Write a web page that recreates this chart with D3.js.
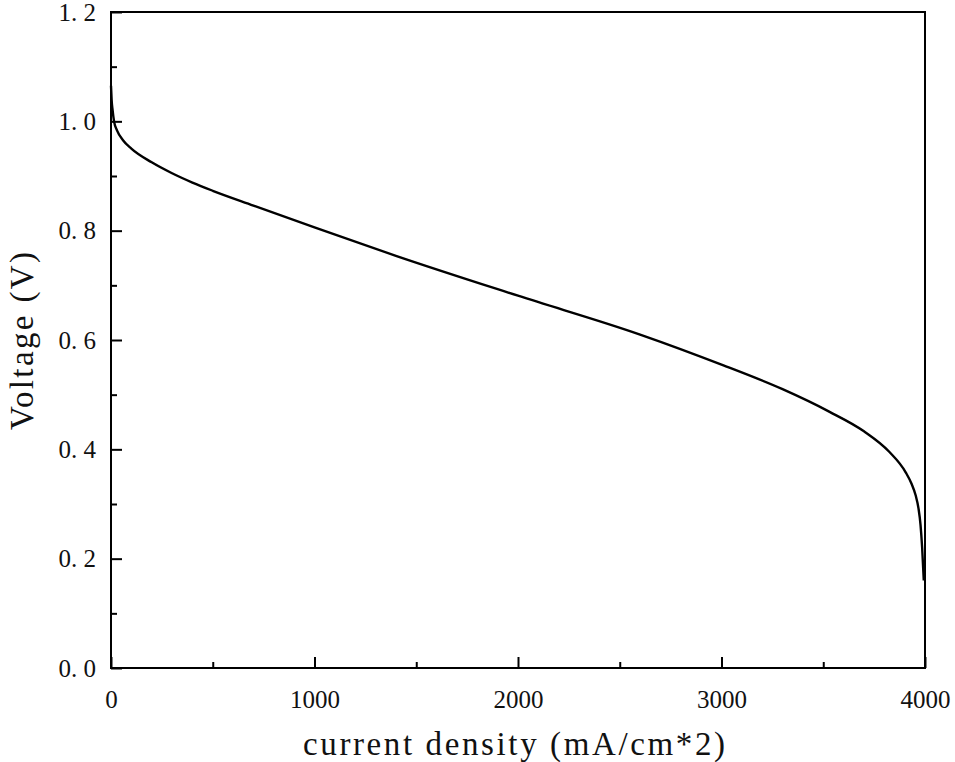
<!DOCTYPE html>
<html>
<head>
<meta charset="utf-8">
<script src="https://cdn.jsdelivr.net/npm/d3@7"></script>
<style>
  html, body { margin: 0; padding: 0; background: #fff; }
  svg { display: block; }
</style>
</head>
<body>
<svg id="chart" width="955" height="762"></svg>
<script>
// ---- data ----
const currentDensity = [0, 3, 8, 15, 30, 60, 100, 200, 300, 400, 500, 700, 1000, 1400, 2000, 2600, 3000, 3300, 3529, 3700, 3823, 3905, 3935, 3954, 3968, 3978, 3986, 3994];
const voltage        = [1.065, 1.040, 1.020, 1.000, 0.983, 0.965, 0.950, 0.925, 0.905, 0.888, 0.873, 0.846, 0.806, 0.754, 0.681, 0.610, 0.555, 0.510, 0.469, 0.433, 0.396, 0.358, 0.336, 0.316, 0.292, 0.262, 0.220, 0.160];
const xMajorTicks = [0, 1000, 2000, 3000, 4000];
const xMinorTicks = [500, 1500, 2500, 3500];
const yMajorTicks = [0.0, 0.2, 0.4, 0.6, 0.8, 1.0, 1.2];
const yMinorTicks = [0.1, 0.3, 0.5, 0.7, 0.9, 1.1];
const yTickLabels = ["0. 0", "0. 2", "0. 4", "0. 6", "0. 8", "1. 0", "1. 2"];
const xTickLabels = ["0", "1000", "2000", "3000", "4000"];
const xTitle = "current density (mA/cm*2)";
const yTitle = "Voltage (V)";

(function () {
  // ---- layout ----
  const mLeft = 111, mRight = 925, mTop = 12, mBottom = 668;
  const svg = d3.select("#chart");

  const x = d3.scaleLinear().domain([0, 4000]).range([mLeft, mRight]);
  const y = d3.scaleLinear().domain([0, 1.2]).range([mBottom, mTop]);

  const serif = "'Liberation Serif', 'DejaVu Serif', serif";

  // curve
  const pts = currentDensity.map((c, i) => [c, voltage[i]]);
  const line = d3.line().x(d => x(d[0])).y(d => y(d[1])).curve(d3.curveMonotoneX);
  svg.append("path")
    .attr("d", line(pts))
    .attr("fill", "none")
    .attr("stroke", "#000")
    .attr("stroke-width", 2.4);

  // frame
  svg.append("rect")
    .attr("x", mLeft).attr("y", mTop)
    .attr("width", mRight - mLeft).attr("height", mBottom - mTop)
    .attr("fill", "none").attr("stroke", "#000").attr("stroke-width", 2);

  // x axis (inward ticks)
  const xAxis = d3.axisBottom(x).tickValues(xMajorTicks)
    .tickSize(-11).tickPadding(22)
    .tickFormat((d, i) => xTickLabels[i]);
  const gx = svg.append("g").attr("transform", `translate(0,${mBottom})`).call(xAxis);
  gx.select(".domain").remove();
  gx.selectAll(".tick line").attr("stroke", "#000").attr("stroke-width", 2);
  gx.selectAll(".tick text").attr("font-family", serif).attr("font-size", 25).attr("fill", "#111");

  const xMinor = d3.axisBottom(x).tickValues(xMinorTicks).tickSize(-6).tickFormat("");
  const gxm = svg.append("g").attr("transform", `translate(0,${mBottom})`).call(xMinor);
  gxm.select(".domain").remove();
  gxm.selectAll(".tick line").attr("stroke", "#000").attr("stroke-width", 2);

  // y axis (inward ticks)
  const yAxis = d3.axisLeft(y).tickValues(yMajorTicks)
    .tickSize(-11).tickPadding(15)
    .tickFormat((d, i) => yTickLabels[i]);
  const gy = svg.append("g").attr("transform", `translate(${mLeft},0)`).call(yAxis);
  gy.select(".domain").remove();
  gy.selectAll(".tick line").attr("stroke", "#000").attr("stroke-width", 2);
  gy.selectAll(".tick text").attr("font-family", serif).attr("font-size", 25).attr("fill", "#111");

  const yMinor = d3.axisLeft(y).tickValues(yMinorTicks).tickSize(-6).tickFormat("");
  const gym = svg.append("g").attr("transform", `translate(${mLeft},0)`).call(yMinor);
  gym.select(".domain").remove();
  gym.selectAll(".tick line").attr("stroke", "#000").attr("stroke-width", 2);

  // titles
  svg.append("text")
    .attr("x", 303).attr("y", 755)
    .attr("text-anchor", "start")
    .attr("textLength", 422).attr("lengthAdjust", "spacing")
    .attr("font-family", serif).attr("font-size", 33).attr("fill", "#111")
    .text(xTitle);

  svg.append("text")
    .attr("transform", `translate(33,430) rotate(-90)`)
    .attr("text-anchor", "start")
    .attr("textLength", 178).attr("lengthAdjust", "spacing")
    .attr("font-family", serif).attr("font-size", 33).attr("fill", "#111")
    .text(yTitle);
})();
</script>
</body>
</html>
